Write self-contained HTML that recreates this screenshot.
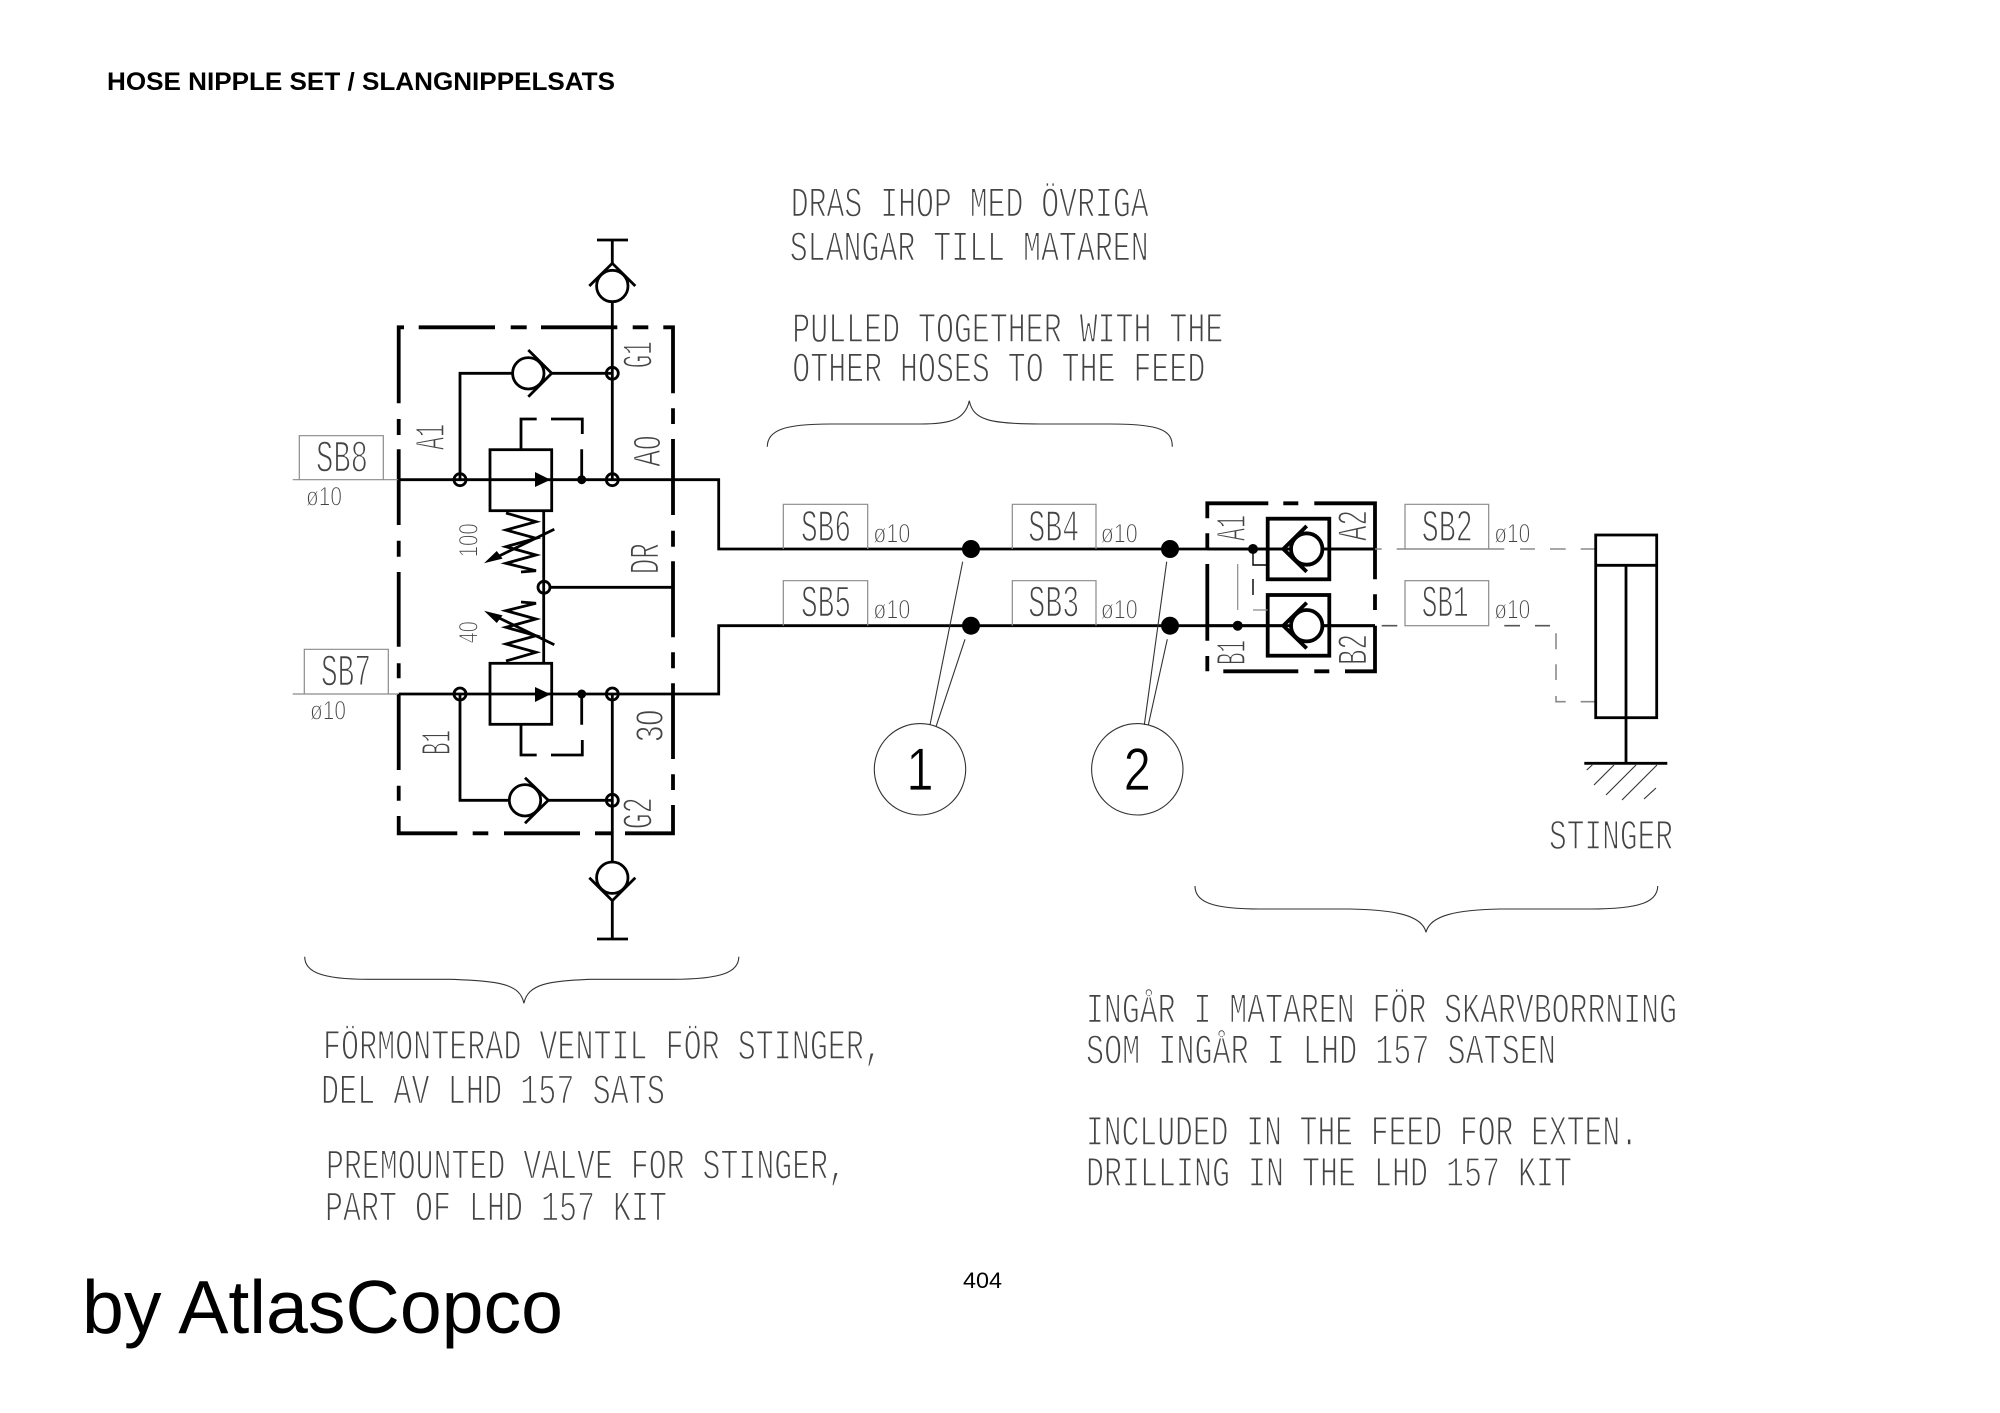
<!DOCTYPE html>
<html><head><meta charset="utf-8"><style>
html,body{margin:0;padding:0;background:#fff;width:2000px;height:1413px;overflow:hidden}
svg{display:block;font-family:"Liberation Sans",sans-serif}
.k{fill:none;stroke:#000;stroke-width:2.8}
.h{fill:none;stroke:#000;stroke-width:3.8}
.g{fill:none;stroke:#8a8a8a;stroke-width:1.2}
.b{fill:none;stroke:#333;stroke-width:1.1}
.c{font-family:"Liberation Mono",monospace;fill:#444;stroke:#fff;stroke-width:1.4}
.s{fill:#444;stroke:#fff;stroke-width:1}
.f41{font-size:43px}.f44{font-size:45px}.f29{font-size:27px}
.n{fill:#000;stroke:#fff;stroke-width:.8;font-size:60px}
</style></head><body>
<svg width="2000" height="1413" viewBox="0 0 2000 1413" xmlns="http://www.w3.org/2000/svg">
<rect width="2000" height="1413" fill="#fff"/>
<text x="107" y="90" font-size="25" font-weight="bold" textLength="508" lengthAdjust="spacingAndGlyphs">HOSE NIPPLE SET / SLANGNIPPELSATS</text>
<text x="82" y="1333" font-size="75" textLength="481" lengthAdjust="spacingAndGlyphs">by AtlasCopco</text>
<text x="963" y="1288" font-size="22" textLength="39" lengthAdjust="spacingAndGlyphs">404</text>

<!-- left dashed enclosure -->
<path class="h" d="M398.7 331V403.3M398.7 419V435M398.7 449.3V525M398.7 540.7V556.7M398.7 572V646.7M398.7 663.3V678.3M398.7 694V770M398.7 785.7V800.7M398.7 816V833.3H457.3M472.7 833.3H488.3M504 833.3H580M595 833.3H612M625 833.3H673V805M673 790V774.3M673 759V683.3M673 668.3V652.3M673 637.3V561.3M673 546.7V530.7M673 515V439M673 424V408.3M673 393.3V327.3H663.3M648.3 327.3H632.7M617.3 327.3H541M526.7 327.3H510.7M495 327.3H418.7M404 327.3H398.7V331"/>
<!-- main lines -->
<path class="k" d="M398.7 479.7H718.7V549H1375"/>
<path class="k" d="M398.7 694H718.7V625.7H1375"/>
<path class="k" d="M612.3 240V263.3M612.3 301.7V479.7M597 240H628"/>
<path class="k" d="M612.3 694V862M612.3 900.7V939M597 939H628"/>
<circle class="k" cx="612.3" cy="286" r="15.7"/>
<path class="k" d="M589.3 286L612.3 263.3L635.3 286"/>
<circle class="k" cx="612.3" cy="877.7" r="15.7"/>
<path class="k" d="M589.3 877.7L612.3 900.7L635.3 877.7"/>
<!-- inner check valves -->
<path class="k" d="M460 479.7V373.3H512.6M551.7 373.3H612.3"/>
<circle class="k" cx="528.3" cy="373.3" r="15.7"/>
<path class="k" d="M528.3 350L551.7 373.3L528.3 396.7"/>
<path class="k" d="M460 694V800.3H509.3M548.3 800.3H612.3"/>
<circle class="k" cx="525" cy="800.3" r="15.7"/>
<path class="k" d="M525 777.7L548.3 800.3L525 823.3"/>
<!-- junctions -->
<g class="k"><circle cx="460" cy="479.7" r="6"/><circle cx="612.3" cy="479.7" r="6"/><circle cx="612.3" cy="373.3" r="6"/><circle cx="460" cy="694" r="6"/><circle cx="612.3" cy="694" r="6"/><circle cx="612.3" cy="800.3" r="6"/><circle cx="544" cy="587.3" r="6"/></g>
<circle cx="581.7" cy="479.7" r="4.5"/><circle cx="581.7" cy="694" r="4.5"/>
<!-- relief valves -->
<g>
<rect class="k" x="490" y="449.7" width="61.7" height="61"/>
<path d="M550.5 479.7L535 472V487Z"/>
<path class="k" d="M521 449.7V419H536.7M551 419H582.3V434M581.7 449.3V479.7"/>
<path class="k" d="M506 513L536 521.7L506 530L536 538.3L506 546.7L536 555L506 563.3L536 570.7L521 572"/>
<path class="k" d="M554.3 529.3L495 558"/>
<path d="M485.7 562.3L501.7 558.3L496.7 551.7Z" stroke="#000"/>
</g>
<g transform="translate(0,1174) scale(1,-1)">
<rect class="k" x="490" y="449.7" width="61.7" height="61"/>
<path d="M550.5 479.7L535 472V487Z"/>
<path class="k" d="M521 449.7V419H536.7M551 419H582.3V434M581.7 449.3V479.7"/>
<path class="k" d="M506 513L536 521.7L506 530L536 538.3L506 546.7L536 555L506 563.3L536 570.7L521 572"/>
<path class="k" d="M554.3 529.3L495 558"/>
<path d="M485.7 562.3L501.7 558.3L496.7 551.7Z" stroke="#000"/>
</g>
<path class="k" d="M543.7 510.7V663.3M550 587.3H671.7"/>

<!-- dots on feed lines -->
<circle cx="971" cy="549" r="9"/><circle cx="971" cy="625.7" r="9"/><circle cx="1170" cy="549" r="9"/><circle cx="1170" cy="625.7" r="9"/>
<path class="b" d="M962.7 561.7L930 725M965 639.3L936 726.7M1166.7 561.7L1144.3 725M1167.3 639.3L1148.3 725"/>
<circle class="b" cx="920" cy="769.3" r="45.7"/><circle class="b" cx="1137.3" cy="769.3" r="45.7"/>
<text class="n" x="920" y="790" text-anchor="middle" textLength="27" lengthAdjust="spacingAndGlyphs">1</text>
<text class="n" x="1137.3" y="790" text-anchor="middle" textLength="27" lengthAdjust="spacingAndGlyphs">2</text>

<!-- right enclosure -->
<path class="h" d="M1207.3 518.3V503.3H1268.3M1283.3 503.3H1298.3M1314.3 503.3H1375V579.3M1375 594.3V610M1375 625.7V671.3H1345M1329.3 671.3H1314.3M1298.3 671.3H1223.3M1207.3 671.3V656M1207.3 640.7V564M1207.3 549V533.3"/>
<rect class="h" x="1267.7" y="518.7" width="61.6" height="60.6"/>
<rect class="h" x="1267.7" y="595" width="61.6" height="60.7"/>
<path class="k" d="M1207 549H1283.3M1322.4 549H1375M1207 625.7H1283.3M1322.4 625.7H1375"/>
<g class="h">
<circle cx="1306.7" cy="549" r="15.7" fill="#fff"/><path d="M1306.7 526L1283.3 549L1306.7 571.7"/>
<circle cx="1306.7" cy="625.7" r="15.7" fill="#fff"/><path d="M1306.7 602.7L1283.3 625.7L1306.7 648.4"/>
</g>
<circle cx="1253" cy="549" r="5"/><circle cx="1237.7" cy="625.7" r="5"/>
<path class="k" style="stroke-width:1.4" d="M1253 549V565H1267.7M1253 579V595"/>
<path class="g" d="M1253 610H1267.7M1237.7 564V610"/>

<!-- grey dashed and label boxes -->
<path class="g" style="stroke-width:1.6" d="M1375 549H1381.7M1396.7 549H1405H1488.7H1504.3M1520 549H1535M1550 549H1565.7M1580.7 549H1595.7"/>
<path class="b" style="stroke-width:1.6;stroke:#555" d="M1381.7 625.7H1397.3M1504.3 625.7H1520M1535 625.7H1550"/>
<path class="g" style="stroke-width:1.6" d="M1556 633.3V649.3M1556 664.3V680M1556 696V701.7H1565.7M1580.7 701.7H1595.7"/>
<g class="g">
<path d="M292.7 479.7H398M299.3 479.7V435.7H383.3V479.7"/>
<path d="M292.7 694H398M304.3 694V649.3H388.3V694"/>
<path d="M783.3 549V504.3H867.7V549M1012.3 549V504.3H1096V549M783.3 625.7V580.7H867.7V625.7M1012.3 625.7V580.7H1096V625.7"/>
<path d="M1405 549V504.3H1488.7V549"/>
<rect x="1405" y="580.7" width="83.7" height="45"/>
</g>
<!-- cylinder -->
<rect class="k" x="1595.7" y="535" width="61" height="182.7"/>
<path class="k" d="M1595.7 565.3H1656.7M1626 565.3V763.3M1584.3 763.3H1667.3"/>
<path class="b" d="M1592.3 765L1586.7 770M1614 765L1594 785M1636 765L1606 795M1657 765L1622 800M1656 788L1644 799"/>

<!-- braces -->
<path class="b" d="M767.3 446.7C767.3 430 785 424 830 424H920C950 424 965 420 969.3 400.7C973 420 990 424 1040 424H1110C1160 424 1172.3 430 1172.3 446.7"/>
<path class="b" d="M304.7 956.7C304.7 972 322 979.3 368 979.3H450C500 981 520 984 523.9 1003.3C528 984 548 981 591 979.3H672C722 979.3 738.8 972 738.8 956.7"/>
<path class="b" d="M1195 886C1195 902 1212 909 1260 909H1350C1395 910 1422 915 1426 932.3C1430 915 1457 910 1500 909H1590C1640 909 1657.7 902 1657.7 886"/>

<!-- CAD text -->
<g class="c f41">
<text x="790.7" y="216.7" textLength="358" lengthAdjust="spacingAndGlyphs">DRAS IHOP MED ÖVRIGA</text>
<text x="789.7" y="260.7" textLength="359" lengthAdjust="spacingAndGlyphs">SLANGAR TILL MATAREN</text>
<text x="792.3" y="342" textLength="431" lengthAdjust="spacingAndGlyphs">PULLED TOGETHER WITH THE</text>
<text x="792.3" y="381.3" textLength="413" lengthAdjust="spacingAndGlyphs">OTHER HOSES TO THE FEED</text>
<text x="323" y="1059" textLength="559" lengthAdjust="spacingAndGlyphs">FÖRMONTERAD VENTIL FÖR STINGER,</text>
<text x="321" y="1103.3" textLength="344" lengthAdjust="spacingAndGlyphs">DEL AV LHD 157 SATS</text>
<text x="326" y="1178.3" textLength="520" lengthAdjust="spacingAndGlyphs">PREMOUNTED VALVE FOR STINGER,</text>
<text x="325" y="1220.7" textLength="342" lengthAdjust="spacingAndGlyphs">PART OF LHD 157 KIT</text>
<text x="1086" y="1022.3" textLength="591" lengthAdjust="spacingAndGlyphs">INGÅR I MATAREN FÖR SKARVBORRNING</text>
<text x="1086" y="1063.3" textLength="470" lengthAdjust="spacingAndGlyphs">SOM INGÅR I LHD 157 SATSEN</text>
<text x="1086" y="1145" textLength="552" lengthAdjust="spacingAndGlyphs">INCLUDED IN THE FEED FOR EXTEN.</text>
<text x="1086" y="1186" textLength="486" lengthAdjust="spacingAndGlyphs">DRILLING IN THE LHD 157 KIT</text>
<text x="1549" y="849" textLength="124" lengthAdjust="spacingAndGlyphs">STINGER</text>
<text transform="translate(651.7,368.3) rotate(-90)" textLength="27" lengthAdjust="spacingAndGlyphs">G1</text>
<text transform="translate(444,450) rotate(-90)" textLength="26" lengthAdjust="spacingAndGlyphs">A1</text>
<text transform="translate(658.3,574.3) rotate(-90)" textLength="31" lengthAdjust="spacingAndGlyphs">DR</text>
<text transform="translate(450,755) rotate(-90)" textLength="25" lengthAdjust="spacingAndGlyphs">B1</text>
<text transform="translate(651.7,829.3) rotate(-90)" textLength="32" lengthAdjust="spacingAndGlyphs">G2</text>
<text transform="translate(1245,541) rotate(-90)" textLength="26" lengthAdjust="spacingAndGlyphs">A1</text>
<text transform="translate(1366.7,541) rotate(-90)" textLength="31" lengthAdjust="spacingAndGlyphs">A2</text>
<text transform="translate(1245,665) rotate(-90)" textLength="25" lengthAdjust="spacingAndGlyphs">B1</text>
<text transform="translate(1366.7,665) rotate(-90)" textLength="31" lengthAdjust="spacingAndGlyphs">B2</text>
</g>
<g class="s" font-size="38">
<text transform="translate(660,466.7) rotate(-90)" textLength="31" lengthAdjust="spacingAndGlyphs">A0</text>
<text transform="translate(662.7,741.7) rotate(-90)" textLength="32" lengthAdjust="spacingAndGlyphs">30</text>
</g>
<g class="c f44">
<text x="316" y="471.7" textLength="52" lengthAdjust="spacingAndGlyphs">SB8</text>
<text x="321" y="685.7" textLength="50" lengthAdjust="spacingAndGlyphs">SB7</text>
<text x="801" y="541" textLength="50" lengthAdjust="spacingAndGlyphs">SB6</text>
<text x="801" y="616.7" textLength="50" lengthAdjust="spacingAndGlyphs">SB5</text>
<text x="1028.3" y="541" textLength="51" lengthAdjust="spacingAndGlyphs">SB4</text>
<text x="1028.3" y="616.7" textLength="51" lengthAdjust="spacingAndGlyphs">SB3</text>
<text x="1421.7" y="541" textLength="51" lengthAdjust="spacingAndGlyphs">SB2</text>
<text x="1421.7" y="616.7" textLength="47" lengthAdjust="spacingAndGlyphs">SB1</text>
</g>
<g class="s f29">
<text x="306" y="505.7" textLength="36" lengthAdjust="spacingAndGlyphs">ø10</text>
<text x="310" y="719.3" textLength="36" lengthAdjust="spacingAndGlyphs">ø10</text>
<text x="873.3" y="542.3" textLength="37" lengthAdjust="spacingAndGlyphs">ø10</text>
<text x="873.3" y="618.3" textLength="37" lengthAdjust="spacingAndGlyphs">ø10</text>
<text x="1100.7" y="542.3" textLength="37" lengthAdjust="spacingAndGlyphs">ø10</text>
<text x="1100.7" y="618.3" textLength="37" lengthAdjust="spacingAndGlyphs">ø10</text>
<text x="1494.3" y="542.3" textLength="36" lengthAdjust="spacingAndGlyphs">ø10</text>
<text x="1494.3" y="618.3" textLength="36" lengthAdjust="spacingAndGlyphs">ø10</text>
<text transform="translate(477.3,557.3) rotate(-90)" textLength="34" lengthAdjust="spacingAndGlyphs">100</text>
<text transform="translate(477.3,643.3) rotate(-90)" textLength="22" lengthAdjust="spacingAndGlyphs">40</text>
</g>
</svg>
</body></html>
